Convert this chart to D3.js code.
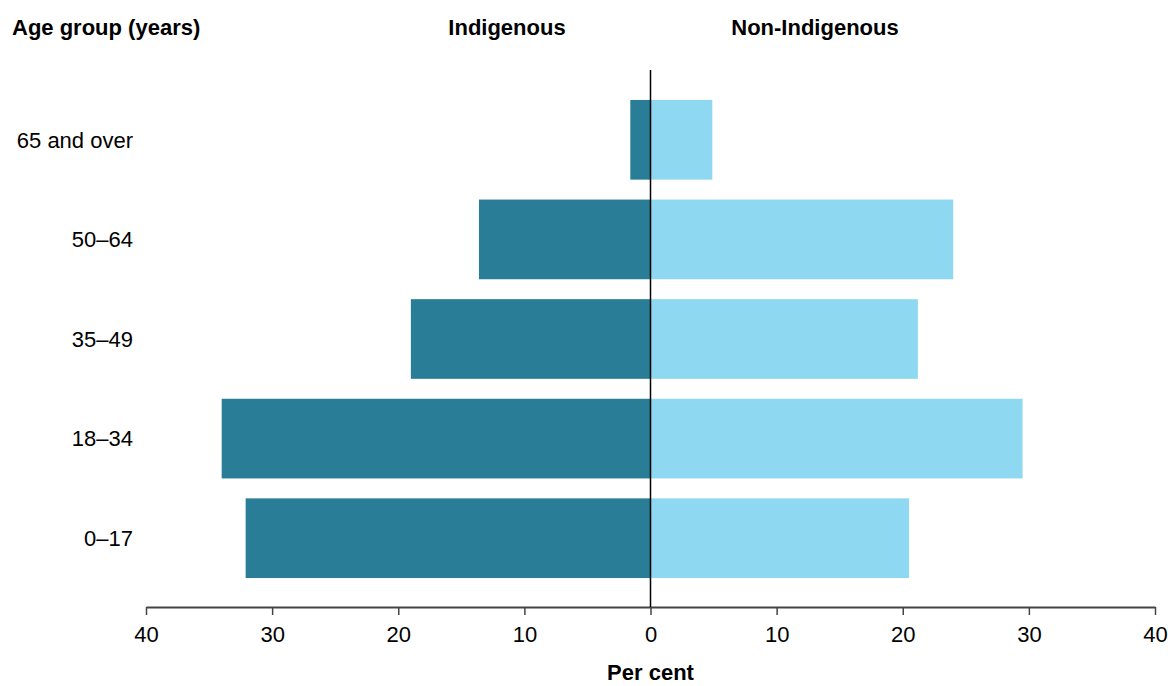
<!DOCTYPE html>
<html>
<head>
<meta charset="utf-8">
<script src="https://cdn.jsdelivr.net/npm/d3@7"></script>
<style>
  html, body { margin: 0; padding: 0; background: #fff; }
  svg { display: block; font-family: "Liberation Sans", Arial, sans-serif; }
</style>
</head>
<body>
<svg id="chart" width="1168" height="686"></svg>
<script>
const categories = ["65 and over", "50–64", "35–49", "18–34", "0–17"];
const indigenous = [1.6, 13.6, 19.0, 34.0, 32.1];
const nonIndigenous = [4.9, 24.0, 21.2, 29.5, 20.5];
const tickValues = [-40, -30, -20, -10, 0, 10, 20, 30, 40];

const svg = d3.select("#chart");
const x = d3.scaleLinear().domain([-40, 40]).range([146, 1155]);
const y = d3.scaleBand().domain(categories).range([90, 588]).paddingInner(0.2).paddingOuter(0.1);

const darkCol = "#2a7d97";
const lightCol = "#8fd8f1";

// Indigenous bars (left)
svg.append("g").selectAll("rect").data(categories).join("rect")
  .attr("x", (d, i) => x(-indigenous[i]))
  .attr("y", d => y(d))
  .attr("width", (d, i) => x(0) - x(-indigenous[i]))
  .attr("height", y.bandwidth())
  .attr("fill", darkCol);

// Non-Indigenous bars (right)
svg.append("g").selectAll("rect").data(categories).join("rect")
  .attr("x", x(0))
  .attr("y", d => y(d))
  .attr("width", (d, i) => x(nonIndigenous[i]) - x(0))
  .attr("height", y.bandwidth())
  .attr("fill", lightCol);

// Axis
const axisY = 607;
const axis = d3.axisBottom(x).tickValues(tickValues).tickFormat(d => Math.abs(d)).tickSize(8).tickSizeOuter(0).tickPadding(11);
const ag = svg.append("g").attr("transform", `translate(0,${axisY})`).call(axis);
ag.select(".domain").attr("stroke", "#444").attr("stroke-width", 2);
ag.selectAll(".tick line").attr("stroke", "#444").attr("stroke-width", 1.5);
ag.selectAll(".tick text").attr("font-size", 22).attr("fill", "#000").attr("font-family", "Liberation Sans, Arial, sans-serif");

// Zero line
svg.append("line")
  .attr("x1", x(0)).attr("x2", x(0))
  .attr("y1", 70).attr("y2", axisY)
  .attr("stroke", "#000").attr("stroke-width", 1.5);

// Category labels
svg.append("g").selectAll("text").data(categories).join("text")
  .attr("x", 133)
  .attr("y", d => y(d) + y.bandwidth() / 2)
  .attr("dy", "0.35em")
  .attr("text-anchor", "end")
  .attr("font-size", 22)
  .attr("fill", "#000")
  .text(d => d);

// Headers
svg.append("text").attr("x", 12).attr("y", 35).attr("font-size", 22).attr("font-weight", "bold").text("Age group (years)");
svg.append("text").attr("x", 507).attr("y", 35).attr("text-anchor", "middle").attr("font-size", 22).attr("font-weight", "bold").text("Indigenous");
svg.append("text").attr("x", 815).attr("y", 35).attr("text-anchor", "middle").attr("font-size", 22).attr("font-weight", "bold").text("Non-Indigenous");
svg.append("text").attr("x", x(0)).attr("y", 680).attr("text-anchor", "middle").attr("font-size", 22).attr("font-weight", "bold").text("Per cent");
</script>
</body>
</html>
